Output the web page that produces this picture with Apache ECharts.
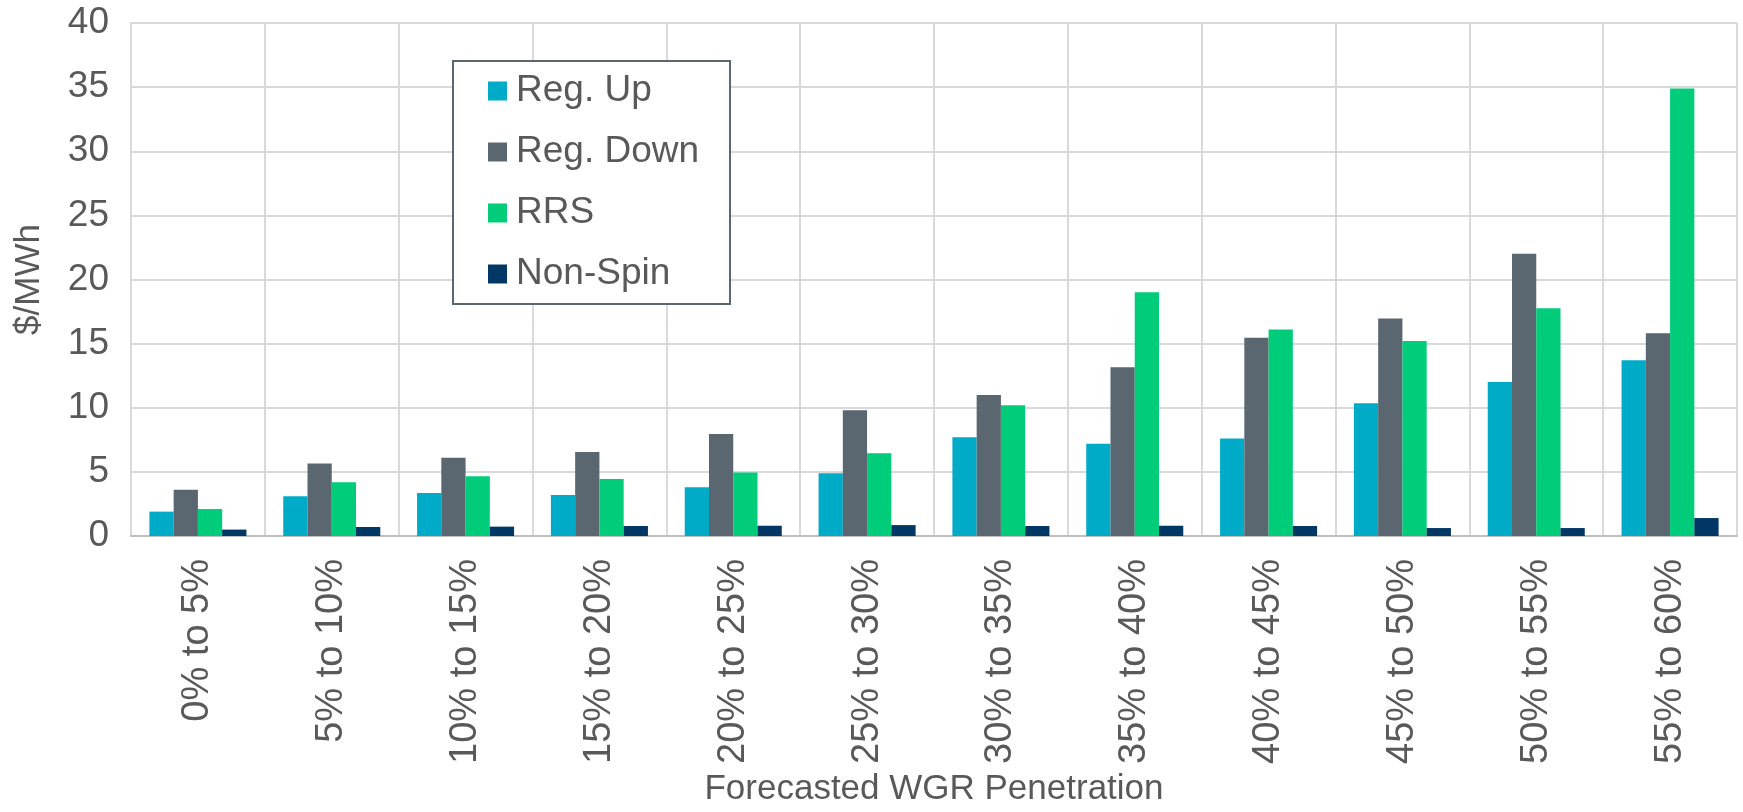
<!DOCTYPE html>
<html>
<head>
<meta charset="utf-8">
<script src="https://cdn.jsdelivr.net/npm/echarts@6/dist/echarts.min.js"></script>
<style>html,body{margin:0;padding:0;background:#fff;}#c{width:1743px;height:812px;}</style>
</head>
<body>
<div id="c"></div>
<script>
const categories = ['0% to 5%','5% to 10%','10% to 15%','15% to 20%','20% to 25%','25% to 30%','30% to 35%','35% to 40%','40% to 45%','45% to 50%','50% to 55%','55% to 60%'];
const regUp   = [1.9, 3.1, 3.35, 3.2, 3.8, 4.9, 7.7, 7.2, 7.6, 10.35, 12.0, 13.7];
const regDown = [3.6, 5.65, 6.1, 6.55, 7.95, 9.8, 11.0, 13.15, 15.45, 16.95, 22.0, 15.8];
const rrs     = [2.1, 4.2, 4.65, 4.45, 4.95, 6.45, 10.2, 19.0, 16.1, 15.2, 17.75, 34.9];
const nonSpin = [0.5, 0.7, 0.73, 0.78, 0.8, 0.85, 0.78, 0.8, 0.78, 0.62, 0.62, 1.4];
const seriesNames = ['Reg. Up','Reg. Down','RRS','Non-Spin'];
const colors = ['#00ABC8','#5A6670','#00CC7A','#003764'];

const FONT = '"Liberation Sans", Arial, sans-serif';
const TXT = '#595959';
const chart = echarts.init(document.getElementById('c'), null, {renderer:'canvas'});
const dataSets = [regUp, regDown, rrs, nonSpin];
chart.setOption({
  animation: false,
  backgroundColor: '#fff',
  color: colors,
  textStyle: {fontFamily: FONT},
  grid: {left: 131, right: 6, top: 23, bottom: 272, containLabel: false},
  legend: {
    orient: 'vertical',
    left: 453, top: 61,
    icon: 'rect',
    itemWidth: 19, itemHeight: 19,
    itemGap: 21,
    padding: [10, 31, 10, 35],
    backgroundColor: '#fff',
    borderColor: '#5A6670',
    borderWidth: 2,
    textStyle: {fontSize: 37, color: TXT, fontFamily: FONT, lineHeight: 40, padding: [0,0,0,4]},
    data: seriesNames
  },
  xAxis: {
    type: 'category',
    data: categories,
    name: 'Forecasted WGR Penetration',
    nameLocation: 'middle',
    nameGap: 236,
    nameTextStyle: {fontSize: 35, color: TXT, fontFamily: FONT},
    axisLine: {show: true, lineStyle: {color: '#BFBFBF', width: 2}},
    axisTick: {show: false},
    splitLine: {show: true, lineStyle: {color: '#D9D9D9', width: 2}},
    axisLabel: {rotate: 90, fontSize: 38, color: TXT, fontFamily: FONT, margin: 23, interval: 0}
  },
  yAxis: {
    type: 'value',
    min: 0, max: 40, interval: 5,
    name: '$/MWh',
    nameLocation: 'middle',
    nameGap: 84,
    nameRotate: 90,
    nameTextStyle: {fontSize: 35, color: TXT, fontFamily: FONT},
    axisLine: {show: true, lineStyle: {color: '#D9D9D9', width: 2}},
    axisTick: {show: false},
    splitLine: {show: true, lineStyle: {color: '#D9D9D9', width: 2}},
    axisLabel: {fontSize: 37, color: TXT, fontFamily: FONT, margin: 22}
  },
  series: seriesNames.map((n, i) => ({
    name: n,
    type: 'bar',
    data: dataSets[i],
    barGap: '0%',
    barCategoryGap: '27.5%',
    itemStyle: {color: colors[i]}
  }))
});
</script>
</body>
</html>
